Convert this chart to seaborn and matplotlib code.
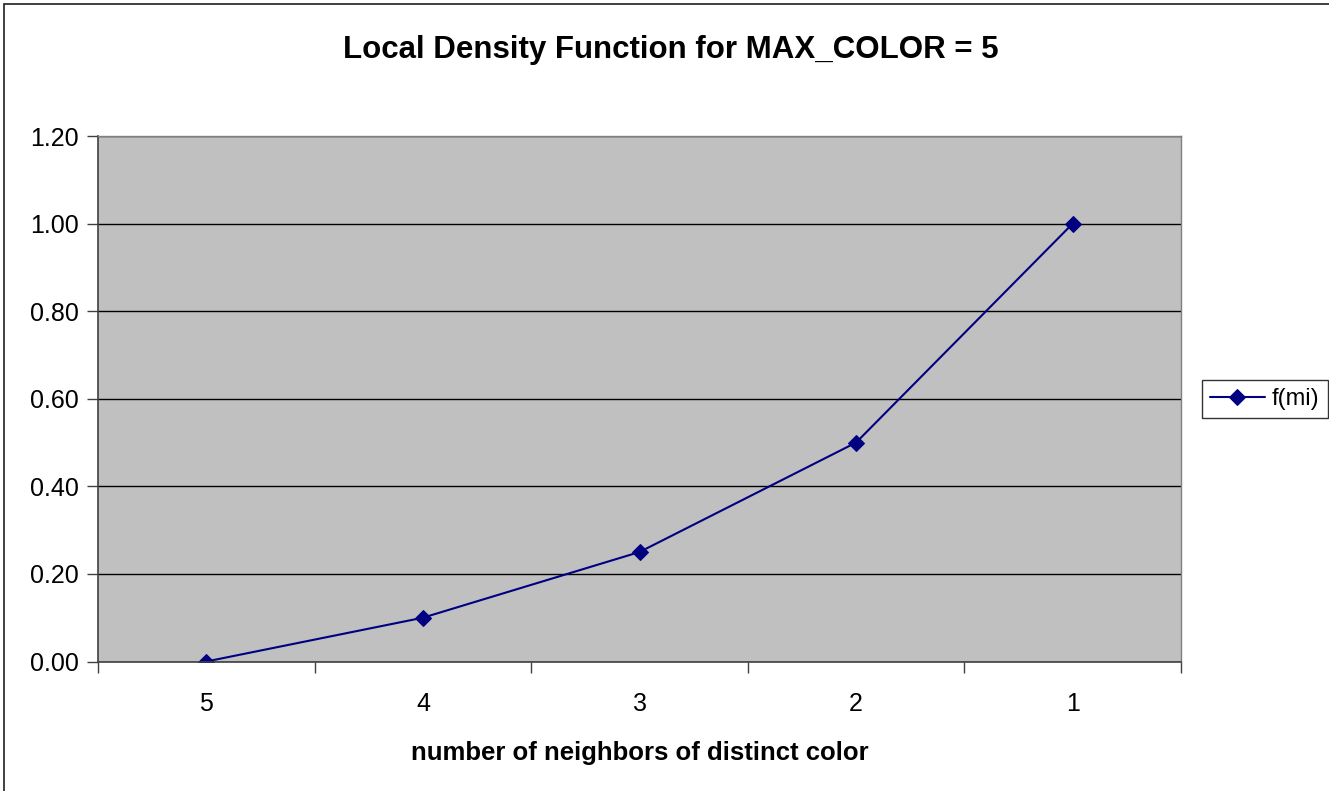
import pandas as pd
import numpy as np
import seaborn as sns
import matplotlib.pyplot as plt
from matplotlib.patches import Rectangle

categories = ["5", "4", "3", "2", "1"]
values = [0.0, 0.10, 0.25, 0.50, 1.00]
series_name = "f(mi)"

df = pd.DataFrame({"neighbors": categories, "f": values, "series": series_name})

sns.set_theme(style="white")
plt.rcParams["font.family"] = ["Liberation Sans", "DejaVu Sans"]
plt.rcParams["text.color"] = "black"
plt.rcParams["axes.labelcolor"] = "black"

fig = plt.figure(figsize=(13.29, 7.91), dpi=100)
ax = fig.add_axes([98 / 1329, 1 - 661.5 / 791, 1083 / 1329, 525.5 / 791])
ax.set_facecolor("#C0C0C0")

sns.lineplot(data=df, x="neighbors", y="f", hue="series", palette=["#000080"],
             marker="D", markersize=8.5, linewidth=1.5, markeredgecolor="#000080",
             ax=ax, sort=False)

ax.set_xlim(-0.5, 4.5)
ax.set_ylim(0, 1.2)
ax.set_yticks(np.arange(0, 1.21, 0.2))
ax.set_yticklabels([f"{v:.2f}" for v in np.arange(0, 1.21, 0.2)])
ax.yaxis.grid(True, color="black", linewidth=1)
ax.set_axisbelow(True)

# category boundary ticks like Excel
ax.set_xticks(np.arange(-0.5, 5, 1), minor=True)
ax.tick_params(axis="x", which="major", length=0, pad=22, labelsize=18, labelcolor="black")
ax.tick_params(axis="x", which="minor", length=8, width=1, color="#404040", direction="out", bottom=True)
ax.tick_params(axis="y", length=8, width=1, color="#404040", direction="out", left=True,
               labelsize=18, labelcolor="black", pad=6)

for side in ["top", "right"]:
    ax.spines[side].set_color("#808080")
    ax.spines[side].set_linewidth(1)
for side in ["left", "bottom"]:
    ax.spines[side].set_color("#404040")
    ax.spines[side].set_linewidth(1.2)

ax.set_ylabel("")
ax.set_xlabel("number of neighbors of distinct color", fontsize=18.5, fontweight="bold", labelpad=18)
fig.text(0.505, 1 - 50 / 791, "Local Density Function for MAX_COLOR = 5",
         ha="center", va="center", fontsize=22.5, fontweight="bold")

leg = ax.legend(loc="center left", bbox_to_anchor=(1202 / 1329, 1 - 399 / 791),
                bbox_transform=fig.transFigure, frameon=True, fancybox=False,
                fontsize=17, handlelength=2.3, handletextpad=0.3, borderpad=0.35,
                borderaxespad=0)
leg.get_frame().set_edgecolor("black")
leg.get_frame().set_linewidth(1)

fig.patches.append(Rectangle((4 / 1329, -0.01), 1.0, 1 - 4 / 791 + 0.01,
                             transform=fig.transFigure, fill=False,
                             edgecolor="#202020", linewidth=1.2))

fig.savefig("out.png", dpi=100)
